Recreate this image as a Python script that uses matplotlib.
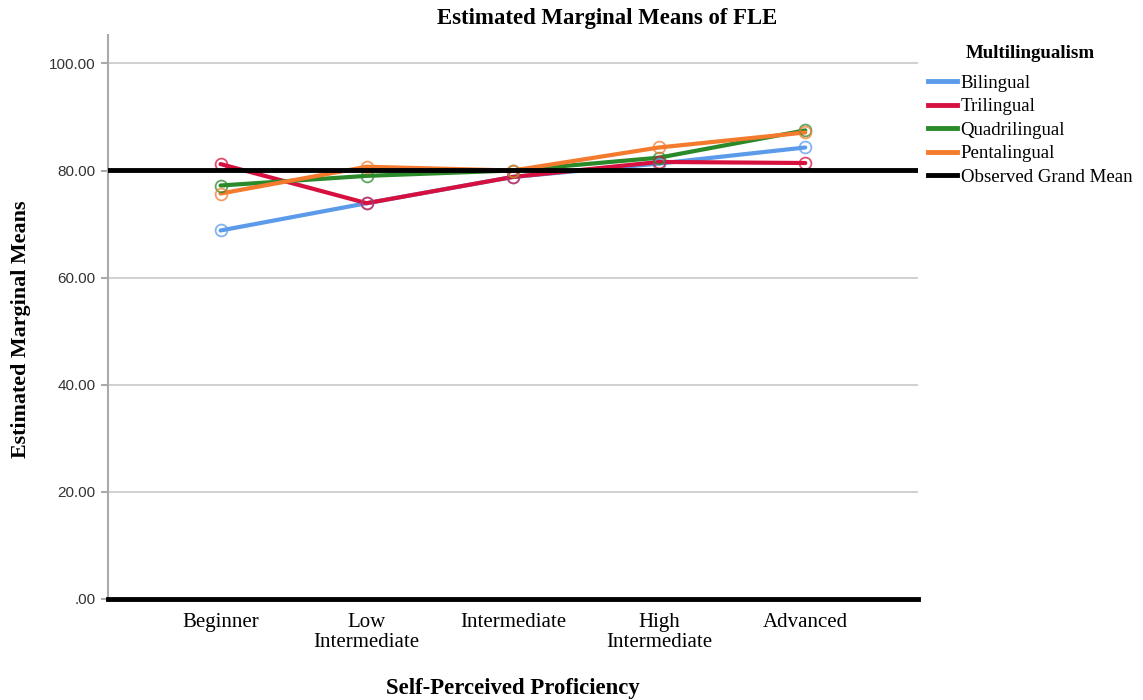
import matplotlib
matplotlib.use("Agg")
import matplotlib.pyplot as plt
from matplotlib.lines import Line2D

categories = ["Beginner", "Low\nIntermediate", "Intermediate", "High\nIntermediate", "Advanced"]
bilingual = [68.8, 73.9, 78.8, 81.3, 84.3]
trilingual = [81.2, 73.9, 78.8, 81.6, 81.4]
quadrilingual = [77.2, 79.0, 80.0, 82.4, 87.5]
pentalingual = [75.7, 80.7, 80.0, 84.3, 87.1]
grand_mean = 80.1
series_names = ["Bilingual", "Trilingual", "Quadrilingual", "Pentalingual"]
yticks = [0, 20, 40, 60, 80, 100]
ytick_labels = [".00", "20.00", "40.00", "60.00", "80.00", "100.00"]

colors = ["#5b9bea", "#d6113f", "#2a8a2a", "#f47a2e"]
serif = ["Liberation Serif", "DejaVu Serif"]
sans = ["Liberation Sans", "DejaVu Sans"]

fig = plt.figure(figsize=(11.43, 7.0), dpi=100)
ax = fig.add_axes([0.0945, 0.1443, 0.7085, 0.8057])

x = list(range(len(categories)))
for vals, c, name in zip([bilingual, trilingual, quadrilingual, pentalingual], colors, series_names):
    ax.plot(x, vals, color=c, lw=3, zorder=3, solid_capstyle="round")
    ax.plot(x, vals, ls="none", marker="o", ms=8.5, mfc="none", mec=c, mew=1.3, alpha=0.75, zorder=4)

ax.axhline(grand_mean, color="black", lw=3.5, zorder=5)

ax.set_xlim(-0.77, 4.77)
ax.set_ylim(0, 105.3)
ax.set_yticks(yticks)
ax.set_yticklabels(ytick_labels, fontfamily=sans, fontsize=11, color="#333333")
ax.set_xticks(x)
ax.set_xticklabels(categories, fontfamily=serif, fontsize=15, linespacing=1.05)
ax.tick_params(axis="x", length=0, pad=10)
ax.tick_params(axis="y", length=5, width=1.5, color="#aaaaaa", pad=4)

ax.grid(axis="y", color="#c8c8c8", lw=1.2, zorder=1)
ax.set_axisbelow(True)
for s in ["top", "right"]:
    ax.spines[s].set_visible(False)
ax.spines["left"].set_color("#aaaaaa")
ax.spines["left"].set_linewidth(1.5)
ax.spines["bottom"].set_color("black")
ax.spines["bottom"].set_linewidth(3.5)
ax.spines["bottom"].set_zorder(6)

fig.text(0.531, 0.974, "Estimated Marginal Means of FLE", ha="center", va="center",
         fontfamily=serif, fontsize=16.4, fontweight="bold")
fig.text(0.449, 0.017, "Self-Perceived Proficiency", ha="center", va="center",
         fontfamily=serif, fontsize=16.4, fontweight="bold")
fig.text(0.018, 0.53, "Estimated Marginal Means", ha="center", va="center", rotation=90,
         fontfamily=serif, fontsize=15.8, fontweight="bold")

handles = [Line2D([], [], color=c, lw=3.5) for c in colors] + [Line2D([], [], color="black", lw=3.5)]
labels = series_names + ["Observed Grand Mean"]
leg = fig.legend(handles, labels, loc="upper left", bbox_to_anchor=(0.805, 0.904),
                 frameon=False, handlelength=1.55, handletextpad=0.2, labelspacing=0.33,
                 prop={"family": serif, "size": 13.6}, borderaxespad=0)
fig.text(0.901, 0.924, "Multilingualism", ha="center", va="center",
         fontfamily=serif, fontsize=13.6, fontweight="bold")

fig.savefig("out.png", dpi=100)
